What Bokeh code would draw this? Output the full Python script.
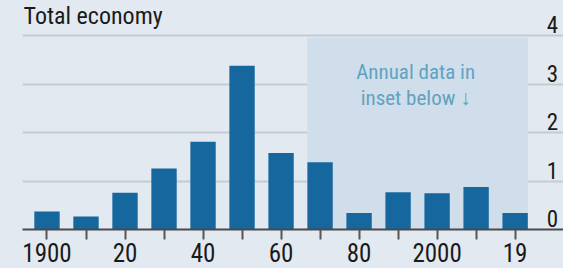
from bokeh.plotting import figure
from bokeh.models import Range1d, FixedTicker
from bokeh.core.properties import value
from bokeh.embed import file_html
from bokeh.resources import INLINE

# ---- data ----
decades = ["1900", "1910", "1920", "1930", "1940", "1950", "1960",
           "1970", "1980", "1990", "2000", "2010", "2019"]
tick_labels = ["1900", "", "20", "", "40", "", "60", "", "80", "", "2000", "", "19"]
values = [0.37, 0.27, 0.76, 1.26, 1.81, 3.38, 1.58, 1.39, 0.34, 0.77, 0.75, 0.88, 0.34]
y_ticks = [0, 1, 2, 3, 4]
title_text = "Total economy"
note_lines = ["Annual data in", "inset below \u2193"]
inset_start, inset_end = 7, 12   # decades covered by annual inset (indexes)

FONT = "Roboto Condensed"
BG = "#e3e9f0"
idx = list(range(len(decades)))

p = figure(width=563, height=268,
           x_range=Range1d(-0.628, 13.24), y_range=Range1d(0, 4.73),
           output_backend="svg", toolbar_location=None,
           min_border_left=22, min_border_right=0, min_border_top=0,
           min_border_bottom=39)
p.background_fill_color = BG
p.border_fill_color = BG
p.outline_line_color = None

# shaded inset region
p.quad(left=[inset_start - 0.33], right=[inset_end + 0.33], bottom=[0], top=[3.96],
       fill_color="#cfdeea", line_color=None)

# bars
p.vbar(x=idx, top=values, width=0.65, bottom=0, fill_color="#17679f", line_color=None)

# grid
p.xgrid.visible = False
p.ygrid.ticker = FixedTicker(ticks=[1, 2, 3, 4])
p.ygrid.grid_line_color = "#c3cbd3"
p.ygrid.grid_line_width = 2

# y axis hidden; labels on right above gridlines
p.yaxis.visible = False
p.text(x=[13.1] * len(y_ticks), y=y_ticks, text=[str(t) for t in y_ticks],
       text_align="right", text_baseline="alphabetic", y_offset=-11,
       text_font=value(FONT), text_font_size="23px", text_color="#1a1a1a")

# x axis
ax = p.xaxis[0]
ax.ticker = FixedTicker(ticks=idx)
ax.major_label_overrides = {i: l for i, l in zip(idx, tick_labels)}
ax.major_tick_out = 10
ax.major_tick_in = 0
ax.minor_tick_line_color = None
ax.major_tick_line_color = "#555555"
ax.major_tick_line_width = 2
ax.axis_line_color = "#4a4a4a"
ax.axis_line_width = 2
ax.major_label_standoff = 3
ax.major_label_text_font = FONT
ax.major_label_text_font_size = "25px"
ax.major_label_text_color = "#1a1a1a"

# title
p.text(x=[-0.6], y=[4.73], text=[title_text], text_align="left",
       text_baseline="top", y_offset=1, text_font=value(FONT),
       text_font_size="24px", text_color="#1a1a1a")

# note
p.text(x=[9.45, 9.45], y=[3.07, 2.53], text=note_lines, text_align="center",
       text_baseline="alphabetic", text_font=value(FONT), text_font_size="21px",
       y_offset=-9, text_color="#62a2c0")

html = file_html(p, INLINE)
html = html.replace("</head>", "<style>html,body{margin:0;padding:0;background:%s;overflow:hidden}</style></head>" % BG)
open("out.html", "w").write(html)
